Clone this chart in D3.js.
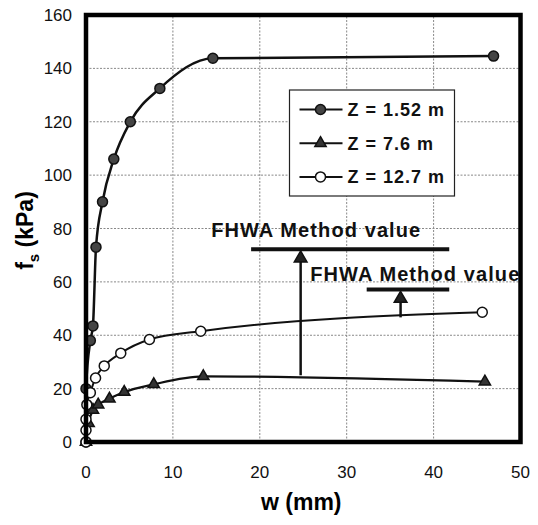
<!DOCTYPE html>
<html>
<head>
<meta charset="utf-8">
<script src="https://cdn.jsdelivr.net/npm/d3@7"></script>
<style>
  body { margin: 0; background: #fff; }
  svg { display: block; font-family: "Liberation Sans", Arial, sans-serif; }
</style>
</head>
<body>
<div id="viz"></div>
<script>
// data: [w (mm), fs (kPa)]
const z152 = [[0, 0], [0, 20], [0.5, 38], [0.8, 43.5], [1.15, 73], [1.9, 90], [3.2, 106],
  [5.1, 120], [8.5, 132.5], [14.6, 143.8], [46.9, 144.6]];
const z76 = [[0, 0], [0.3, 7], [0.8, 12], [1.4, 14], [2.7, 16.2], [4.4, 18.7],
  [7.8, 21.6], [13.5, 24.6], [45.9, 22.6]];
const z127 = [[0, 0], [0, 4.4], [0, 8.5], [0.1, 14], [0.5, 18.5], [1.1, 24], [2.1, 28.5],
  [4.0, 33.3], [7.3, 38.4], [13.2, 41.5], [45.6, 48.6]];

const seriesNames = ['Z = 1.52 m', 'Z = 7.6 m', 'Z = 12.7 m'];
const xTicks = [0, 10, 20, 30, 40, 50];
const yTicks = [0, 20, 40, 60, 80, 100, 120, 140, 160];

// FHWA method values: bar from w0 to w1 at level f, arrow at wa starting from fa
const fhwa = [
  { w0: 19.0, w1: 41.8, f: 72.2, wa: 24.7, fa: 25.0, tw: 14.4, tf: 77.0 },
  { w0: 32.3, w1: 41.8, f: 57.1, wa: 36.2, fa: 46.7, tw: 25.8, tf: 60.3 }
];

const W = 538, H = 525;
const margin = { top: 15, right: 17.5, bottom: 83, left: 86 };

const svg = d3.select('#viz').append('svg')
  .attr('width', W).attr('height', H);

const x = d3.scaleLinear().domain([0, 50]).range([margin.left, W - margin.right]);
const y = d3.scaleLinear().domain([0, 160]).range([H - margin.bottom, margin.top]);

// gridlines
const grid = svg.append('g');
grid.selectAll('.gx').data(xTicks.slice(1, -1)).enter().append('line')
  .attr('x1', d => x(d)).attr('x2', d => x(d))
  .attr('y1', y(0)).attr('y2', y(160))
  .attr('stroke', '#888').attr('stroke-width', 1).attr('stroke-dasharray', '2,1.5');
grid.selectAll('.gy').data(yTicks.slice(1, -1)).enter().append('line')
  .attr('x1', x(0)).attr('x2', x(50))
  .attr('y1', d => y(d)).attr('y2', d => y(d))
  .attr('stroke', '#888').attr('stroke-width', 1).attr('stroke-dasharray', '2,1.5');

// tick labels
svg.append('g').selectAll('text').data(yTicks).enter().append('text')
  .attr('x', margin.left - 14).attr('y', d => y(d)).attr('dy', '0.36em')
  .attr('text-anchor', 'end').attr('font-size', 17).attr('fill', '#111')
  .text(d => d);
svg.append('g').selectAll('text').data(xTicks).enter().append('text')
  .attr('x', d => x(d)).attr('y', y(0) + 30).attr('dy', '0.36em')
  .attr('text-anchor', 'middle').attr('font-size', 17).attr('fill', '#111')
  .text(d => d);

// axis titles
svg.append('text')
  .attr('x', (x(0) + x(50)) / 2 - 2).attr('y', 510)
  .attr('text-anchor', 'middle').attr('font-size', 23).attr('font-weight', 'bold')
  .text('w (mm)');
const yt = svg.append('text')
  .attr('transform', `translate(33,${(y(0) + y(160)) / 2 + 2}) rotate(-90)`)
  .attr('text-anchor', 'middle').attr('font-size', 23).attr('font-weight', 'bold');
yt.append('tspan').text('f');
yt.append('tspan').attr('font-size', 15).attr('dy', 6).text('s');
yt.append('tspan').attr('dy', -6).text(' (kPa)');

// lines
const line = d3.line().x(d => x(d[0])).y(d => y(d[1])).curve(d3.curveMonotoneX);
const lines = svg.append('g').attr('fill', 'none').attr('stroke', '#111');
lines.append('path').datum(z152).attr('d', line).attr('stroke-width', 2.5);
lines.append('path').datum(z76).attr('d', line).attr('stroke-width', 2.2);
lines.append('path').datum(z127).attr('d', line).attr('stroke-width', 2);

// FHWA annotations
const ann = svg.append('g');
fhwa.forEach(a => {
  ann.append('line')
    .attr('x1', x(a.w0)).attr('x2', x(a.w1)).attr('y1', y(a.f)).attr('y2', y(a.f))
    .attr('stroke', '#111').attr('stroke-width', 4);
  ann.append('line')
    .attr('x1', x(a.wa)).attr('x2', x(a.wa)).attr('y1', y(a.fa)).attr('y2', y(a.f) + 12)
    .attr('stroke', '#111').attr('stroke-width', 2.5);
  ann.append('path')
    .attr('d', d3.symbol(d3.symbolTriangle, 70)())
    .attr('transform', `translate(${x(a.wa)},${y(a.f) + 9})`)
    .attr('fill', '#222').attr('stroke', '#111').attr('stroke-width', 1.5);
  ann.append('text')
    .attr('x', x(a.tw)).attr('y', y(a.tf))
    .attr('font-size', 20).attr('font-weight', 'bold').attr('fill', '#111')
    .attr('letter-spacing', 1.1)
    .text('FHWA Method value');
});

// markers
const mk = svg.append('g');
mk.selectAll('.m1').data(z152).enter().append('circle')
  .attr('cx', d => x(d[0])).attr('cy', d => y(d[1])).attr('r', 5)
  .attr('fill', '#444').attr('stroke', '#111').attr('stroke-width', 1.5);
mk.selectAll('.m2').data(z76).enter().append('path')
  .attr('d', d3.symbol(d3.symbolTriangle, 55)())
  .attr('transform', d => `translate(${x(d[0])},${y(d[1])})`)
  .attr('fill', '#333').attr('stroke', '#111').attr('stroke-width', 1.5);
mk.selectAll('.m3').data(z127).enter().append('circle')
  .attr('cx', d => x(d[0])).attr('cy', d => y(d[1])).attr('r', 5)
  .attr('fill', '#fff').attr('stroke', '#111').attr('stroke-width', 1.5);

// frame
svg.append('rect')
  .attr('x', x(0)).attr('y', y(160))
  .attr('width', x(50) - x(0)).attr('height', y(0) - y(160))
  .attr('fill', 'none').attr('stroke', '#000').attr('stroke-width', 4.5);

// legend
const lg = svg.append('g').attr('transform', 'translate(289.5,90)');
lg.append('rect').attr('width', 165).attr('height', 106)
  .attr('fill', '#fff').attr('stroke', '#222').attr('stroke-width', 1.2);
seriesNames.forEach((name, i) => {
  const row = lg.append('g').attr('transform', `translate(0,${19.5 + i * 33.7})`);
  row.append('line').attr('x1', 10).attr('x2', 53).attr('stroke', '#111').attr('stroke-width', 2);
  if (i === 0) {
    row.append('circle').attr('cx', 31).attr('r', 5)
      .attr('fill', '#444').attr('stroke', '#111').attr('stroke-width', 1.5);
  } else if (i === 1) {
    row.append('path').attr('d', d3.symbol(d3.symbolTriangle, 55)())
      .attr('transform', 'translate(31,0)')
      .attr('fill', '#333').attr('stroke', '#111').attr('stroke-width', 1.5);
  } else {
    row.append('circle').attr('cx', 31).attr('r', 5)
      .attr('fill', '#fff').attr('stroke', '#111').attr('stroke-width', 1.5);
  }
  row.append('text').attr('x', 58).attr('dy', '0.36em')
    .attr('font-size', 18).attr('font-weight', 'bold').attr('fill', '#111')
    .attr('letter-spacing', 1)
    .text(name);
});
</script>
</body>
</html>
